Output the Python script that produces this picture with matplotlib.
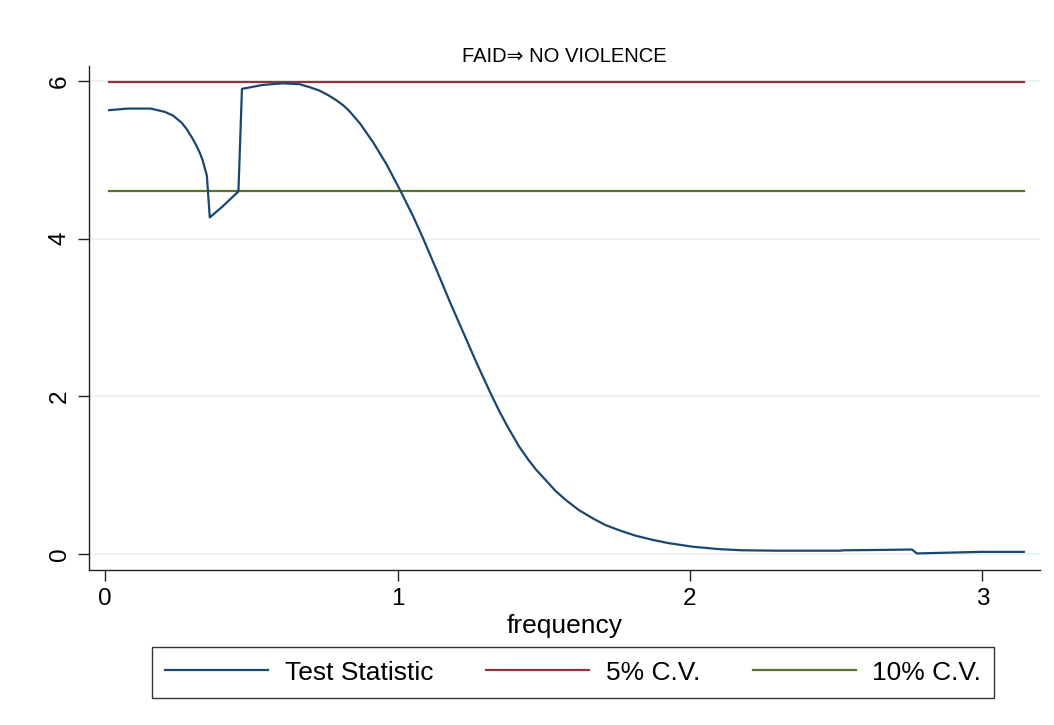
import matplotlib
matplotlib.use("Agg")
import matplotlib.pyplot as plt
import numpy as np

plt.rcParams['font.family'] = ['Liberation Sans', 'DejaVu Sans']

# test statistic
frequency = [0.014, 0.076, 0.156, 0.203, 0.233, 0.262, 0.277, 0.296,
             0.311, 0.325, 0.334, 0.348, 0.358, 0.402, 0.456, 0.468, 0.539,
             0.607, 0.664, 0.701, 0.732, 0.763, 0.789, 0.815, 0.835, 0.872,
             0.917, 0.963, 1.011, 1.054, 1.088, 1.134, 1.179, 1.225, 1.271,
             1.322, 1.350, 1.376, 1.415, 1.447, 1.472, 1.509, 1.541, 1.578,
             1.620, 1.670, 1.711, 1.761, 1.814, 1.875, 1.928, 2.010, 2.098,
             2.178, 2.300, 2.510, 2.530, 2.668, 2.759, 2.776, 2.884, 2.998,
             3.1416]
test_stat = [5.63, 5.65, 5.65, 5.61, 5.56, 5.47, 5.40, 5.29,
             5.19, 5.08, 4.99, 4.80, 4.27, 4.41, 4.60, 5.90, 5.95,
             5.97, 5.96, 5.92, 5.88, 5.82, 5.76, 5.69, 5.62, 5.46,
             5.22, 4.94, 4.60, 4.28, 4.00, 3.60, 3.20, 2.81, 2.42,
             2.01, 1.80, 1.62, 1.37, 1.20, 1.08, 0.93, 0.80, 0.68,
             0.56, 0.45, 0.37, 0.30, 0.235, 0.18, 0.14, 0.095, 0.065,
             0.05, 0.045, 0.045, 0.05, 0.055, 0.06, 0.01, 0.02, 0.03,
             0.03]
cv_5 = 5.99
cv_10 = 4.61

navy = '#1a476f'
maroon = '#90353b'
green = '#55752f'

fig = plt.figure(figsize=(10.54, 7.25), dpi=100)
ax = fig.add_axes([89 / 1054, 1 - 570 / 725, (1040 - 89) / 1054, (570 - 66) / 725])

x = np.array(frequency)
ax.plot(x, test_stat, color=navy, lw=1.6, label='Test Statistic', zorder=3)
ax.plot(x, np.full(len(x), cv_5), color=maroon, lw=1.6, label='5% C.V.', zorder=2)
ax.plot(x, np.full(len(x), cv_10), color=green, lw=1.6, label='10% C.V.', zorder=2)

ax.set_xlim(-0.055, 3.197)
ax.set_ylim(-0.2, 6.19)
ax.set_xticks([0, 1, 2, 3])
ax.set_yticks([0, 2, 4, 6])
ax.grid(axis='y', color='#eaf2f3', lw=1.5, zorder=0)
ax.set_axisbelow(True)

for side in ['top', 'right']:
    ax.spines[side].set_visible(False)
for side in ['left', 'bottom']:
    ax.spines[side].set_color('#222222')
    ax.spines[side].set_linewidth(1.0)

ax.tick_params(axis='both', direction='out', length=8, width=1, color='#222222',
               labelsize=17.5, pad=5)
plt.setp(ax.get_yticklabels(), rotation=90, va='center')

ax.set_xlabel('frequency', fontsize=19, labelpad=3)
ax.set_title('FAID\u21d2 NO VIOLENCE', fontsize=14.5, pad=3)

leg = fig.legend(loc='center', bbox_to_anchor=(573 / 1054, 1 - 672.5 / 725), ncol=3,
                 fontsize=19, frameon=True, fancybox=False, edgecolor='black',
                 handlelength=3.9, handletextpad=0.64, columnspacing=2.0,
                 borderpad=0.5)
leg.get_frame().set_linewidth(1.0)

fig.savefig('out.png', dpi=100)
